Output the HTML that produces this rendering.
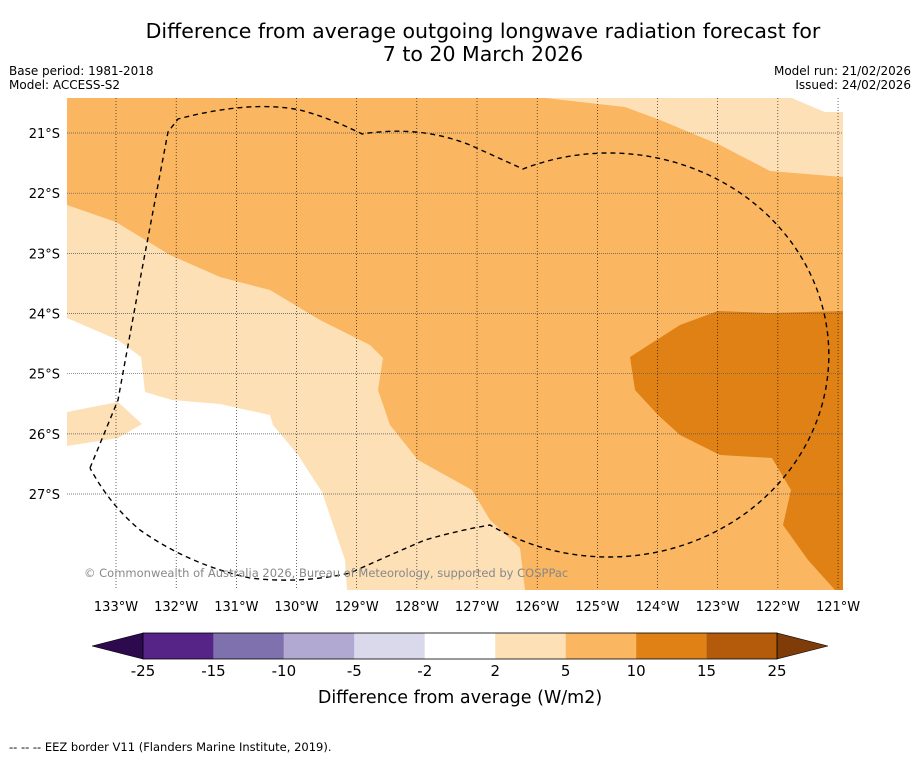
<!DOCTYPE html>
<html><head><meta charset="utf-8">
<style>
body{margin:0;background:#fff;font-family:"Liberation Sans","DejaVu Sans",sans-serif;}
svg text{font-family:"DejaVu Sans","Liberation Sans",sans-serif;}
</style></head>
<body>
<svg width="919" height="758" viewBox="0 0 919 758" xmlns="http://www.w3.org/2000/svg">
<text x="483" y="38" font-size="20.5" text-anchor="middle">Difference from average outgoing longwave radiation forecast for</text>
<text x="483" y="61" font-size="20.5" text-anchor="middle">7 to 20 March 2026</text>
<text x="9" y="75" font-size="12">Base period: 1981-2018</text>
<text x="9" y="89" font-size="12">Model: ACCESS-S2</text>
<text x="911" y="75" font-size="12" text-anchor="end">Model run: 21/02/2026</text>
<text x="911" y="89" font-size="12" text-anchor="end">Issued: 24/02/2026</text>
<defs><clipPath id="mc"><rect x="67" y="98" width="776" height="492"/></clipPath></defs>
<g id="map" clip-path="url(#mc)">
<rect x="67" y="98" width="776" height="492" fill="#fbb661"/>
<polygon fill="#fde0b6" points="545,98 625,107 660,120 720,145 770,171 843,177 843,98"/>
<polygon fill="#ffffff" points="792,98 815,108 825,112 843,112 843,98"/>
<polygon fill="#fde0b6" points="67,205 116,222 170,255 220,277 270,290 320,320 370,345 383,358 378,390 390,425 418,460 472,490 490,520 520,548 525,590 67,590"/>
<polygon fill="#ffffff" points="67,318 118,340 141,357 145,392 172,400 220,404 270,415 273,425 298,455 322,492 345,560 347,590 67,590"/>
<polygon fill="#fde0b6" points="67,412 118,402 142,424 118,438 67,446"/>
<polygon fill="#e08115" points="630,357 680,325 718,311 770,313 843,311 843,590 835,590 808,560 783,525 791,490 772,458 720,455 680,435 658,415 635,390"/>
<g id="grid"></g>
<path fill="none" stroke="#000" stroke-width="1.4" stroke-dasharray="5,4"
 d="M90,468 L118,400 L140,280 L168,132 L178,119 Q250,100 300,110 Q330,118 362,134 Q420,125 470,145 L523,169 A220,202 0 1 1 490,525 Q460,530 425,540 Q390,555 350,573 Q300,584 250,578 Q190,565 140,530 Q110,505 90,468"/>
</g>
<text x="84" y="577" font-size="11.5" fill="#888">© Commonwealth of Australia 2026, Bureau of Meteorology, supported by COSPPac</text>
<g id="axes"></g>
<g id="cbar"></g>
<text x="460" y="703" font-size="17.5" text-anchor="middle">Difference from average (W/m2)</text>
<text x="9" y="751" font-size="11.5">--  --  -- EEZ border V11 (Flanders Marine Institute, 2019).</text>
</svg>
<script>
const lonTicks=[133,132,131,130,129,128,127,126,125,124,123,122,121];
const latTicks=[21,22,23,24,25,26,27];
const cbarLabels=["-25","-15","-10","-5","-2","2","5","10","15","25"];
const cbarColors=["#552486","#7f71ae","#b1a9d1","#d9d9eb","#ffffff","#fde0b6","#fbb661","#e08115","#b35b0b"];
const NS="http://www.w3.org/2000/svg";
const xLon=l=>116+(133-l)*60.17, yLat=l=>133+(l-21)*60.17;
function mk(t,a,p){const e=document.createElementNS(NS,t);for(const k in a)e.setAttribute(k,a[k]);p.appendChild(e);return e;}
const grid=document.getElementById('grid'),axes=document.getElementById('axes'),cb=document.getElementById('cbar');
lonTicks.forEach(l=>{const x=xLon(l);
 const g=mk('line',{x1:x,x2:x,y1:98,y2:590,stroke:'#000','stroke-width':0.6,'stroke-dasharray':'1,2'},grid);
 
 
 const t=mk('text',{x:x,y:611,'font-size':13,'text-anchor':'middle'},axes);t.textContent=l+'°W';
 
 });
latTicks.forEach(l=>{const y=yLat(l);
 const g=mk('line',{x1:67,x2:843,y1:y,y2:y,stroke:'#555','stroke-width':0.7,'stroke-dasharray':'1,1'},grid);
 
 
 const t=mk('text',{x:60,y:y+5,'font-size':13,'text-anchor':'end'},axes);t.textContent=l+'°S';
 
 });
const x0=143,x1=777,w=(x1-x0)/cbarColors.length,yt=633,yb=659;
const lt=mk('polygon',{points:`92,646 ${x0},${yt} ${x0},${yb}`,fill:'#2d0a4e',stroke:'#000','stroke-width':0.6},cb);


const rt=mk('polygon',{points:`828,646 ${x1},${yt} ${x1},${yb}`,fill:'#7f3b08',stroke:'#000','stroke-width':0.6},cb);


cbarColors.forEach((c,i)=>{const r=mk('rect',{x:x0+i*w,y:yt,width:w,height:yb-yt,fill:c},cb);
 
 });
mk('rect',{x:x0,y:yt,width:x1-x0,height:yb-yt,fill:'none',stroke:'#000','stroke-width':0.8},cb);
cbarLabels.forEach((s,i)=>{const t=mk('text',{x:x0+i*w,y:676,'font-size':15,'text-anchor':'middle'},cb);t.textContent=s;
 
 });
</script>
</body></html>
